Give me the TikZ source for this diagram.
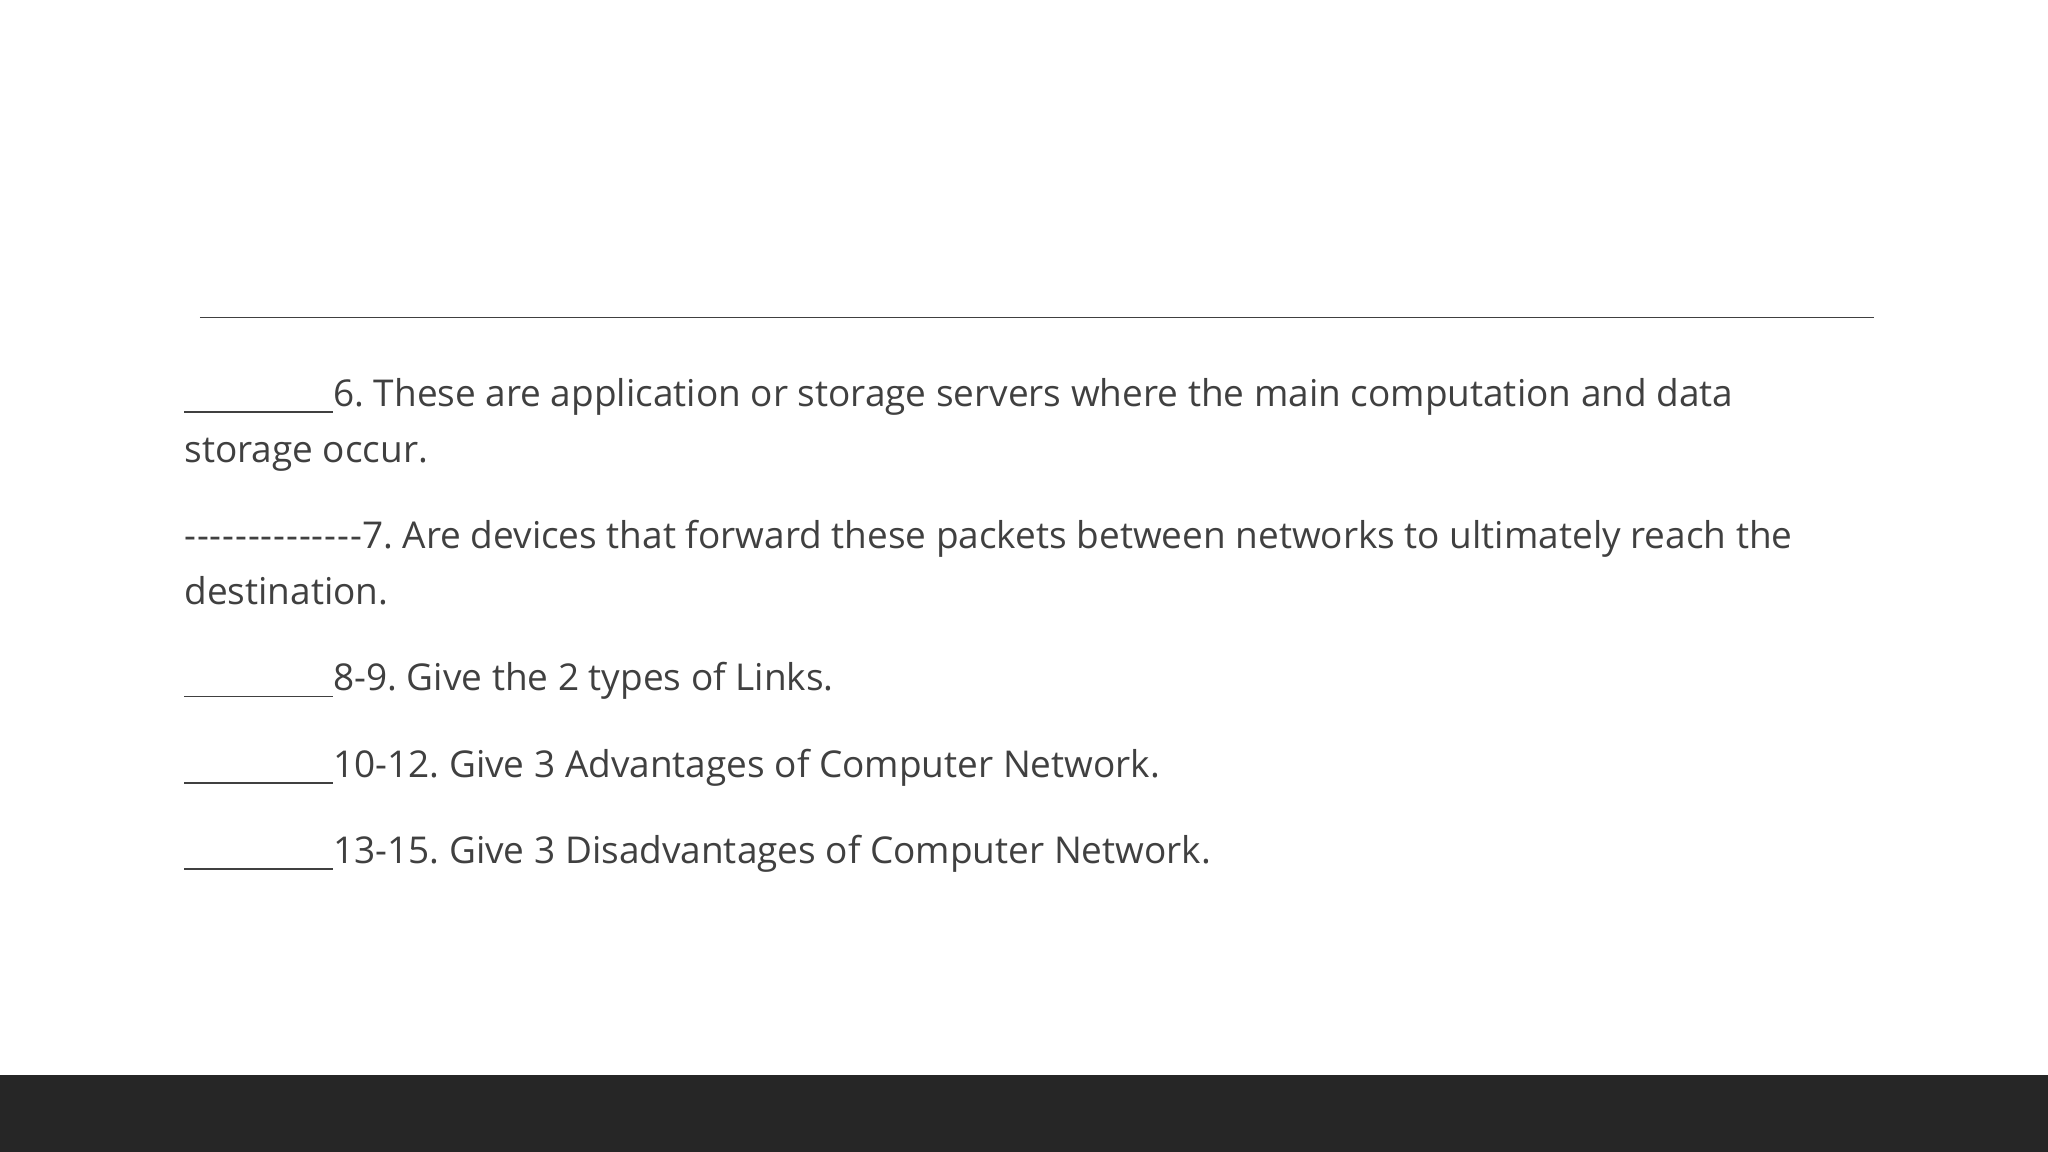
\documentclass[tikz,border=0pt]{standalone}
\usepackage{fontspec}
\setmainfont{Open Sans}[Ligatures=NoCommon]
\definecolor{txt}{HTML}{404040}
\definecolor{bar}{HTML}{262626}
\newcommand{\dsh}{\makebox[136pt][s]{-\hfill-\hfill-\hfill-\hfill-\hfill-\hfill-\hfill-\hfill-\hfill-\hfill-\hfill-\hfill-\hfill-}}
\newcommand{\blank}{\rule[-5pt]{114pt}{1.4pt}}
\frenchspacing
\begin{document}
\begin{tikzpicture}[x=1pt,y=-1pt,
  ln/.style={anchor=base west,inner sep=0pt,text=txt,font=\fontsize{28.3}{34}\selectfont}]
\useasboundingbox (0,0) rectangle (1568,882);
\fill[white] (0,0) rectangle (1568,882);
\fill[bar] (0,823) rectangle (1568,882);
\coordinate (l1) at (153,243); \coordinate (l2) at (1435,243);
\draw[txt,line width=1.2pt] (l1) -- (l2);
\node[ln] (a) at (141,311) {\blank 6. These are application or storage servers where the main computation and data};
\node[ln] (b) at (141,354) {storage occur.};
\node[ln] (c) at (141,420) {\dsh 7. Are devices that forward these packets between networks to ultimately reach the};
\node[ln] (d) at (141,463) {destination.};
\node[ln] (e) at (141,529) {\blank 8-9. Give the 2 types of Links.};
\node[ln] (f) at (141,595) {\blank 10-12. Give 3 Advantages of Computer Network.};
\node[ln] (g) at (141,661) {\blank 13-15. Give 3 Disadvantages of Computer Network.};
\end{tikzpicture}
\end{document}
